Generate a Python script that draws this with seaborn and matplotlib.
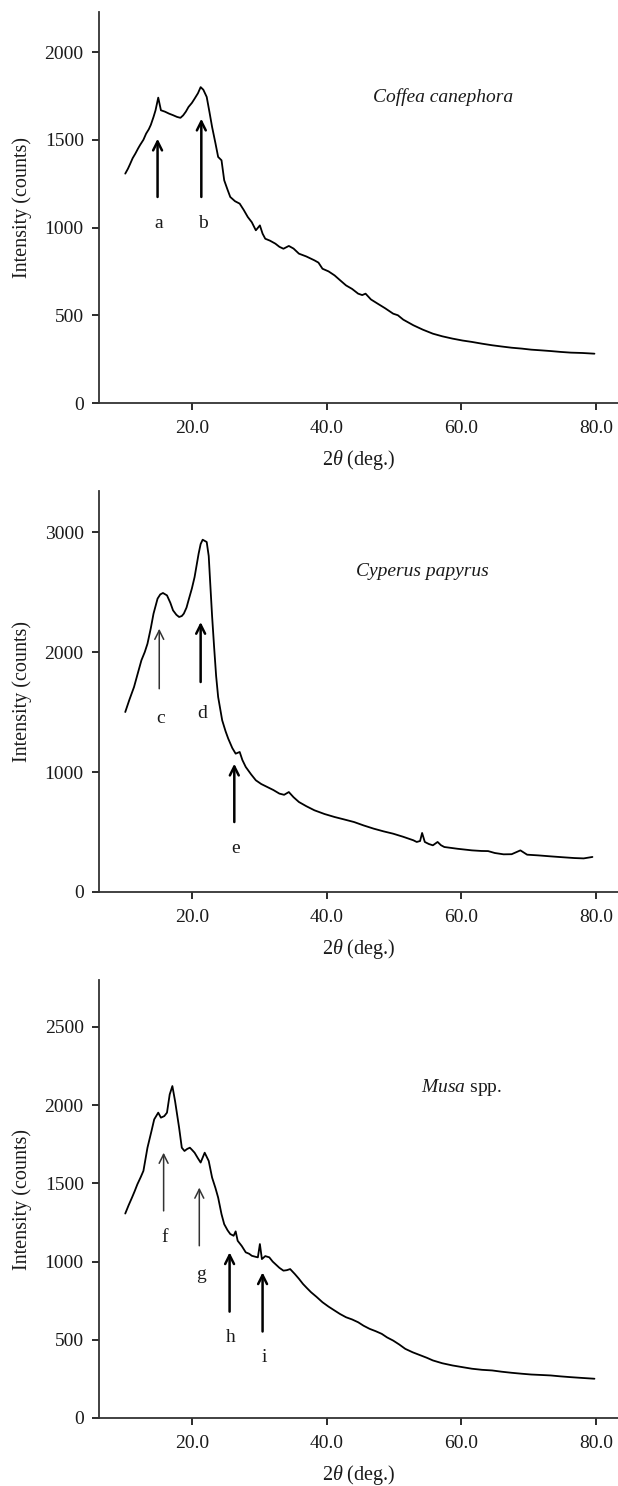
import matplotlib
matplotlib.use("Agg")
import matplotlib.pyplot as plt
import seaborn as sns
import pandas as pd

# ---------------- data ----------------
coffea_x = [10.1, 10.5, 10.8, 11.2, 11.6, 12.0, 12.3, 12.8, 13.2, 13.6, 13.9, 14.3, 14.6, 15.0, 15.4,
            16.0, 16.6, 17.2, 17.8, 18.3, 18.7, 19.1, 19.5, 20.0, 20.4, 20.9, 21.3, 21.7, 22.2, 22.6,
            23.0, 23.5, 23.9, 24.4, 24.8, 25.3, 25.7, 26.4, 27.1, 27.7, 28.3, 28.9, 29.5, 30.1, 30.5,
            30.9, 31.6, 32.4, 33.0, 33.6, 34.4, 35.1, 35.9, 37.0, 38.2, 38.8, 39.4, 40.3, 41.2, 42.0,
            42.9, 43.8, 44.7, 45.3, 45.8, 46.6, 47.6, 48.7, 49.9, 50.6, 51.4, 52.9, 54.3, 55.8, 57.2,
            58.7, 60.2, 61.6, 63.1, 64.6, 66.0, 67.5, 69.0, 70.4, 71.9, 73.3, 74.8, 76.3, 78.0, 79.8]
coffea_y = [1307, 1335, 1360, 1395, 1421, 1450, 1470, 1500, 1535, 1560, 1585, 1630, 1668, 1740, 1668,
            1660, 1649, 1640, 1630, 1625, 1639, 1660, 1687, 1710, 1734, 1765, 1800, 1785, 1744, 1660,
            1573, 1480, 1402, 1383, 1269, 1215, 1174, 1150, 1136, 1100, 1060, 1030, 984, 1012, 965,
            936, 925, 908, 890, 879, 895, 880, 851, 835, 813, 800, 765, 750, 727, 700,
            670, 650, 623, 615, 623, 590, 566, 540, 509, 500, 475, 443, 418, 395, 380,
            367, 356, 348, 338, 329, 322, 315, 310, 304, 300, 296, 291, 287, 285, 281]

cyperus_x = [10.1, 10.7, 11.4, 12.0, 12.5, 13.0, 13.4, 13.9, 14.3, 14.9, 15.3, 15.7, 16.3, 16.8, 17.2,
             17.7, 18.1, 18.5, 18.8, 19.2, 19.5, 20.0, 20.4, 21.0, 21.3, 21.6, 22.2, 22.5, 22.7, 23.0,
             23.3, 23.6, 23.9, 24.5, 25.0, 25.4, 26.0, 26.5, 27.1, 27.5, 28.0, 28.8, 29.5, 30.3, 31.2,
             32.1, 33.0, 33.7, 34.4, 35.1, 35.9, 37.0, 38.2, 39.7, 41.2, 42.6, 44.1, 45.5, 47.0, 48.5,
             49.9, 51.4, 52.9, 53.4, 53.9, 54.2, 54.6, 55.2, 55.8, 56.5, 57.0, 57.5, 59.5, 61.6, 63.0,
             64.0, 65.0, 66.3, 67.5, 68.8, 69.8, 71.5, 73.3, 75.0, 76.8, 78.2, 79.5]
cyperus_y = [1500, 1600, 1708, 1830, 1931, 2000, 2069, 2200, 2320, 2445, 2480, 2492, 2472, 2410, 2347,
             2310, 2292, 2300, 2320, 2370, 2431, 2530, 2625, 2820, 2900, 2936, 2917, 2800, 2597, 2300,
             2042, 1800, 1625, 1431, 1340, 1278, 1200, 1153, 1167, 1100, 1042, 980, 931, 900, 875,
             850, 820, 810, 833, 790, 750, 715, 681, 650, 625, 605, 583, 555, 528, 505,
             486, 460, 431, 417, 425, 492, 417, 400, 389, 417, 390, 375, 360, 347, 342,
             341, 325, 314, 315, 347, 311, 305, 297, 290, 283, 280, 292]

musa_x = [10.1, 10.6, 11.1, 11.5, 11.9, 12.4, 12.8, 13.4, 14.0, 14.4, 15.0, 15.4, 15.9, 16.3, 16.7,
          17.1, 17.5, 18.1, 18.5, 18.9, 19.3, 19.7, 20.0, 20.4, 20.9, 21.3, 21.9, 22.5, 23.0, 23.5,
          23.9, 24.4, 24.8, 25.3, 25.7, 26.2, 26.5, 26.8, 27.4, 28.0, 28.5, 28.9, 29.5, 29.8, 30.1,
          30.4, 30.9, 31.5, 32.0, 32.4, 33.0, 33.6, 34.1, 34.6, 35.3, 35.9, 36.5, 37.1, 37.7, 38.5,
          39.4, 40.3, 41.2, 42.0, 42.9, 43.8, 44.7, 45.5, 46.4, 47.3, 48.2, 49.0, 49.9, 50.8, 51.7,
          52.8, 54.0, 54.9, 55.8, 57.2, 58.7, 60.2, 61.6, 63.1, 64.6, 66.0, 67.5, 69.0, 70.4, 71.9,
          73.3, 74.8, 76.3, 78.0, 79.8]
musa_y = [1307, 1360, 1409, 1450, 1494, 1540, 1580, 1728, 1835, 1909, 1952, 1920, 1930, 1952, 2068,
          2122, 2026, 1856, 1728, 1707, 1720, 1728, 1715, 1696, 1660, 1633, 1696, 1643, 1537, 1470,
          1409, 1303, 1239, 1200, 1176, 1165, 1193, 1133, 1100, 1059, 1050, 1037, 1030, 1027, 1112,
          1016, 1035, 1027, 1000, 984, 960, 942, 945, 952, 920, 890, 857, 830, 804, 775,
          740, 712, 687, 665, 644, 630, 612, 590, 570, 555, 538, 515, 495, 470, 442,
          420, 400, 385, 368, 350, 336, 325, 315, 308, 304, 296, 289, 283, 278, 275,
          272, 266, 261, 256, 251]

panel_names = ["Coffea canephora", "Cyperus papyrus", "Musa spp."]
panel_yticks = [[0, 500, 1000, 1500, 2000], [0, 1000, 2000, 3000], [0, 500, 1000, 1500, 2000, 2500]]
panel_ymax = [2228, 3342, 2800]
x_ticks = [20, 40, 60, 80]

# peak markers: (letter, 2theta, tail intensity, tip intensity, letter intensity, thick?)
coffea_marks = [("a", 14.9, 1174, 1506, 1022, True), ("b", 21.4, 1174, 1620, 1022, True)]
cyperus_marks = [("c", 15.15, 1694, 2194, 1444, False), ("d", 21.3, 1750, 2250, 1486, True),
                 ("e", 26.3, 583, 1069, 361, True)]
musa_marks = [("f", 15.8, 1324, 1696, 1154, False), ("g", 21.1, 1101, 1473, 920, False),
              ("h", 25.6, 680, 1059, 517, True), ("i", 30.5, 553, 931, 389, True)]

# ---------------- style ----------------
sns.set_style("ticks")
plt.rcParams["font.family"] = ["Liberation Serif", "DejaVu Serif"]
plt.rcParams["mathtext.fontset"] = "custom"
plt.rcParams["mathtext.rm"] = "Liberation Serif"
plt.rcParams["mathtext.it"] = "Liberation Serif:italic"

FS = 14
LFS = 14.5
DARK = "#1a1a1a"
SPINE = "#333333"

fig = plt.figure(figsize=(6.18, 14.86), dpi=100)
W = 618.0
H = 1486.0
left = 99 / W
width = (W - 99) / W
boxes = [(12, 403), (491, 892), (980, 1418)]

series = [(coffea_x, coffea_y, coffea_marks), (cyperus_x, cyperus_y, cyperus_marks),
          (musa_x, musa_y, musa_marks)]
label_pos = [(57.3, 1744), (54.2, 2667), (60.0, 2111)]

for i, ((top, bot), (xs, ys, marks)) in enumerate(zip(boxes, series)):
    ax = fig.add_axes([left, (H - bot) / H, width, (bot - top) / H])
    df = pd.DataFrame({"two_theta": xs, "intensity": ys})
    sns.lineplot(data=df, x="two_theta", y="intensity", ax=ax, color="black",
                 linewidth=1.3, estimator=None, sort=False)
    ax.set_xlim(6.2, 83.3)
    ax.set_ylim(0, panel_ymax[i])
    ax.set_xticks(x_ticks)
    ax.set_xticklabels([f"{t:.1f}" for t in x_ticks])
    ax.set_yticks(panel_yticks[i])
    ax.set_yticklabels([str(t) for t in panel_yticks[i]])
    sns.despine(ax=ax)
    for s in ["left", "bottom"]:
        ax.spines[s].set_color(SPINE)
        ax.spines[s].set_linewidth(1.3)
    ax.tick_params(axis="both", direction="out", length=5, width=1.3, color=DARK,
                   labelsize=FS, labelcolor=DARK)
    ax.tick_params(axis="x", pad=7)
    ax.tick_params(axis="y", pad=6)
    ax.set_xlabel(r"2$\mathit{\theta}$ (deg.)", fontsize=LFS, color=DARK, labelpad=8)
    ax.set_ylabel("Intensity (counts)", fontsize=LFS, color=DARK, labelpad=9)

    for letter, xm, ytail, ytip, ytxt, thick in marks:
        ax.annotate("", xy=(xm, ytip), xytext=(xm, ytail),
                    arrowprops=dict(arrowstyle="->", lw=1.8 if thick else 1.1,
                                    color="black" if thick else "#333333",
                                    mutation_scale=16, shrinkA=0, shrinkB=0))
        ax.text(xm + 0.2, ytxt, letter, ha="center", va="center", fontsize=FS, color=DARK)

    lx, ly = label_pos[i]
    if i < 2:
        ax.text(lx, ly, panel_names[i], ha="center", va="center", fontsize=FS,
                style="italic", color=DARK)
    else:
        ax.text(lx, ly, r"$\mathit{Musa}$ spp.", ha="center", va="center",
                fontsize=FS, color=DARK)

fig.savefig("out.png", dpi=100)
